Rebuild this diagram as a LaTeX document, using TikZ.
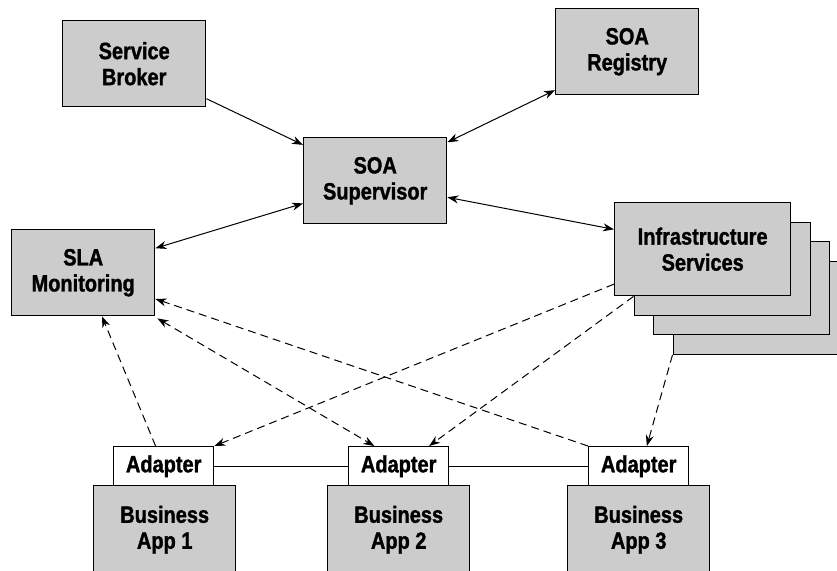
\documentclass[tikz,border=0pt]{standalone}
\usepackage{fontspec}
\newfontfamily\lblfont{Liberation Sans}[FakeStretch=0.85, BoldFeatures={FakeBold=1.3}]
\usetikzlibrary{arrows.meta,calc}
\definecolor{boxgray}{RGB}{204,204,204}
\tikzset{
  box/.style={draw=black, line width=1.4pt, fill=boxgray, anchor=north west, inner sep=0pt,
    align=center, font=\lblfont\bfseries\fontsize{23.5}{26}\selectfont},
  bigbox/.style={box, minimum width=143pt, minimum height=86pt},
  infrabox/.style={box, minimum width=176pt, minimum height=93pt},
  adapterbox/.style={box, fill=white, minimum width=100pt, minimum height=39pt},
  appbox/.style={box, minimum width=142pt, minimum height=88pt},
  solidarrow/.style={line width=1pt, -{Stealth[length=11pt,width=8pt,inset=3.5pt]}},
  solidboth/.style={line width=1pt, {Stealth[length=11pt,width=8pt,inset=3.5pt]}-{Stealth[length=11pt,width=8pt,inset=3.5pt]}},
  dasharrow/.style={line width=1pt, dash pattern=on 8pt off 5pt, -{Stealth[length=11pt,width=8pt,inset=3.5pt]}},
  dashboth/.style={line width=1pt, dash pattern=on 8pt off 5pt, {Stealth[length=11pt,width=8pt,inset=3.5pt]}-{Stealth[length=11pt,width=8pt,inset=3.5pt]}},
  link/.style={line width=1.2pt}
}
\begin{document}
\begin{tikzpicture}[x=1pt, y=-1pt]
\useasboundingbox (0,0) rectangle (837,570);
\clip (0,0) rectangle (837,570);
\fill[white] (0,0) rectangle (837,570);

% top boxes
\node[bigbox] (broker) at (62,20) {Service\\Broker};
\node[bigbox] (registry) at (555,8) {SOA\\Registry};
\node[bigbox] (supervisor) at (303,137) {SOA\\Supervisor};
\node[bigbox] (sla) at (11,229) {SLA\\Monitoring};

% infrastructure stack
\node[infrabox] (infra4) at (672.5,260.5) {};
\node[infrabox] (infra3) at (653,241) {};
\node[infrabox] (infra2) at (633.5,221.5) {};
\node[infrabox] (infra) at (614,202) {Infrastructure\\Services};

% bottom
\node[appbox] (app1) at (93,485) {Business\\App 1};
\node[appbox] (app2) at (327,485) {Business\\App 2};
\node[appbox] (app3) at (567,485) {Business\\App 3};
\node[adapterbox] (ad1) at (113,446) {Adapter};
\node[adapterbox] (ad2) at (348,446) {Adapter};
\node[adapterbox] (ad3) at (588,446) {Adapter};

% adapter links
\draw[link] (ad1.east) -- (ad2.west);
\draw[link] (ad2.east) -- (ad3.west);

% solid arrows
\draw[solidarrow] ($(broker.north east)!0.9!(broker.south east)$) -- ($(supervisor.north west)!0.09!(supervisor.south west)$);
\draw[solidboth] ($(supervisor.north east)!0.06!(supervisor.south east)$) -- ($(registry.north west)!0.94!(registry.south west)$);
\draw[solidboth] ($(supervisor.north east)!0.69!(supervisor.south east)$) -- ($(infra.north west)!0.29!(infra.south west)$);
\draw[solidboth] ($(supervisor.north west)!0.76!(supervisor.south west)$) -- ($(sla.north east)!0.22!(sla.south east)$);

% dashed arrows
\draw[dasharrow] ($(ad1.north west)!0.42!(ad1.north east)$) -- ($(sla.south west)!0.63!(sla.south east)$);
\draw[dasharrow] (ad3.north west) -- ($(sla.north east)!0.8!(sla.south east)$);
\draw[dashboth] ($(sla.south east)+(2,2)$) -- ($(ad2.north west)!0.26!(ad2.north east)$);
\draw[dasharrow] ($(infra.north west)!0.87!(infra.south west)$) -- (ad1.north east);
\draw[dasharrow] (infra2.west |- infra.south) -- ($(ad2.north west)!0.8!(ad2.north east)$);
\draw[dasharrow] (infra4.south west) -- ($(ad3.north west)!0.58!(ad3.north east)$);
\end{tikzpicture}
\end{document}
